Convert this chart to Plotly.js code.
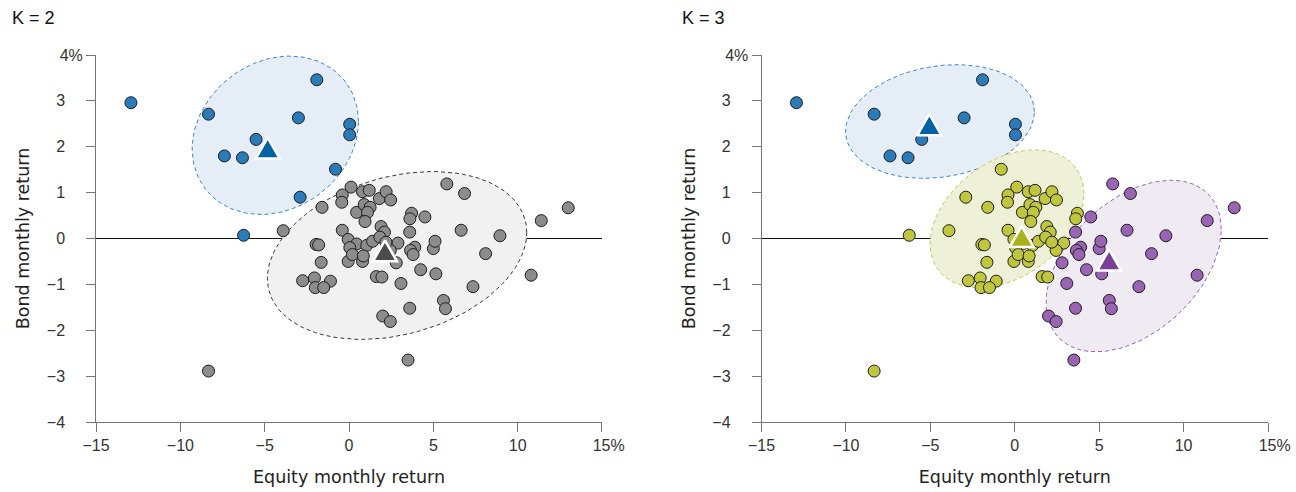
<!DOCTYPE html>
<html><head><meta charset="utf-8">
<script src="https://cdn.plot.ly/plotly-3.0.1.min.js"></script>
<style>html,body{margin:0;padding:0;background:#fff;} #chart{width:1296px;height:492px;}</style>
</head><body><div id="chart"></div>
<script>
// Monthly returns (%) for each observation
const equity = [-12.93,-8.33,-1.91,-3.00,0.04,0.04,-5.51,-7.39,-6.32,-0.80,-2.90,-6.25,
  -8.33,0.12,-0.40,-0.43,0.80,1.20,1.80,2.20,2.47,-1.60,0.45,0.90,1.25,1.10,0.95,3.71,3.61,4.50,
  -3.90,-0.40,1.90,2.10,3.60,-1.95,-1.80,-0.05,0.45,0.05,1.05,1.40,2.90,3.90,3.65,3.80,5.00,5.10,
  -1.65,-0.05,0.80,0.20,0.85,2.80,4.25,5.15,1.62,1.95,3.08,-2.75,-2.05,-1.10,-2.00,-1.50,
  3.60,2.00,2.45,3.50,5.80,6.85,13.00,11.40,6.65,8.95,8.10,10.80,7.35,5.60,5.72,2.45,1.83,2.19];
const bond = [2.96,2.71,3.46,2.63,2.49,2.26,2.16,1.80,1.76,1.51,0.90,0.07,
  -2.89,1.12,0.95,0.79,1.02,1.05,0.87,1.02,0.84,0.68,0.57,0.74,0.68,0.57,0.37,0.55,0.43,0.47,
  0.17,0.18,0.26,0.14,0.14,-0.13,-0.14,-0.02,-0.12,-0.20,-0.15,-0.06,-0.10,-0.19,-0.26,-0.35,-0.22,-0.06,
  -0.52,-0.50,-0.50,-0.35,-0.38,-0.53,-0.68,-0.77,-0.83,-0.84,-0.98,-0.92,-0.86,-0.93,-1.07,-1.07,
  -1.52,-1.69,-1.81,-2.65,1.19,0.98,0.67,0.39,0.18,0.06,-0.33,-0.80,-1.05,-1.35,-1.53,-0.26,0.03,-0.08];
// Cluster labels
const clusterK2 = [0,0,0,0,0,0,0,0,0,0,0,0,
  1,1,1,1,1,1,1,1,1,1,1,1,1,1,1,1,1,1,
  1,1,1,1,1,1,1,1,1,1,1,1,1,1,1,1,1,1,
  1,1,1,1,1,1,1,1,1,1,1,1,1,1,1,1,
  1,1,1,1,1,1,1,1,1,1,1,1,1,1,1,1,1,1];
const clusterK3 = [0,0,0,0,0,0,0,0,0,1,1,1,
  1,1,1,1,1,1,1,1,1,1,1,1,1,1,1,1,1,2,
  1,1,1,1,2,1,1,1,1,1,1,1,1,2,2,2,2,2,
  1,1,1,1,1,2,2,2,1,1,2,1,1,1,1,1,
  2,2,2,2,2,2,2,2,2,2,2,2,2,2,2,1,1,1];
// Centroids
const k2CentroidEquity = [-4.82, 2.13];
const k2CentroidBond = [1.96, -0.28];
const k3CentroidEquity = [-5.06, 0.41, 5.59];
const k3CentroidBond = [2.47, 0.03, -0.48];
// Cluster ellipses: centre, half-widths, tilt
const k2EllipseCx = [-4.37, 2.85];
const k2EllipseCy = [2.25, -0.37];
const k2EllipseRx = [4.93, 7.69];
const k2EllipseRy = [1.70, 1.76];
const k2EllipseTilt = [0.30, 0.50];
const k3EllipseCx = [-4.43, -0.46, 7.04];
const k3EllipseCy = [2.55, 0.43, -0.60];
const k3EllipseRx = [5.59, 4.56, 5.19];
const k3EllipseRy = [1.22, 1.40, 1.69];
const k3EllipseTilt = [0.215, 0.545, 0.80];
// Axis ticks
const xTickVals = [-15,-10,-5,0,5,10,15];
const xTickText = ['\u221215','\u221210','\u22125','0','5','10','\u2007\u200815%'];
const yTickVals = [-4,-3,-2,-1,0,1,2,3,4];
const yTickText = ['\u22124\u2007\u2007','\u22123\u2007\u2007','\u22122\u2007\u2007','\u22121\u2007\u2007','0\u2007\u2007','1\u2007\u2007','2\u2007\u2007','3\u2007\u2007','4%'];

const k2Colors = ['#2b7bb9', '#8c8c8c'];
const k2TriColors = ['#0063a6', '#4b4b4b'];
const k2Fill = ['#e5eef7', '#f1f1f1'];
const k2Line = ['#3a86c4', '#3a3a3a'];
const k3Colors = ['#2b7bb9', '#c0c73e', '#9a64b4'];
const k3TriColors = ['#0063a6', '#a9b21b', '#7b3f98'];
const k3Fill = ['#e5eef7', '#eef1d7', '#f0eaf3'];
const k3Line = ['#3a86c4', '#c2ca55', '#9564b0'];

function ellipse(cx, cy, rx, ry, tilt) {
  const xs = [], ys = [];
  const n = 120;
  for (let i = 0; i <= n; i++) {
    const t = 2 * Math.PI * i / n;
    xs.push(cx + rx * Math.cos(t));
    ys.push(cy + ry * Math.sin(t) + tilt * Math.cos(t));
  }
  return {x: xs, y: ys};
}

const traces = [];
function panel(xa, ya, labels, cx, cy, rx, ry, tilt, colors, fills, lines, triColors, centX, centY) {
  const k = cx.length;
  for (let c = 0; c < k; c++) {
    const e = ellipse(cx[c], cy[c], rx[c], ry[c], tilt[c]);
    traces.push({type:'scatter', mode:'lines', x:e.x, y:e.y, xaxis:xa, yaxis:ya,
      fill:'toself', fillcolor:fills[c], line:{color:lines[c], width:1, dash:'4px,3px'},
      hoverinfo:'skip', showlegend:false});
  }
  for (let c = 0; c < k; c++) {
    const xs = [], ys = [];
    for (let i = 0; i < equity.length; i++) if (labels[i] === c) { xs.push(equity[i]); ys.push(bond[i]); }
    traces.push({type:'scatter', mode:'markers', x:xs, y:ys, xaxis:xa, yaxis:ya,
      marker:{size:12, color:colors[c], line:{color:'#1e1e1e', width:1}}, showlegend:false});
  }
  traces.push({type:'scatter', mode:'markers', x:centX, y:centY, xaxis:xa, yaxis:ya,
    marker:{symbol:'triangle-up', size:24, color:triColors, line:{color:'#ffffff', width:2.5}},
    showlegend:false, name:'centroid'});
}
panel('x','y', clusterK2, k2EllipseCx, k2EllipseCy, k2EllipseRx, k2EllipseRy, k2EllipseTilt,
  k2Colors, k2Fill, k2Line, k2TriColors, k2CentroidEquity, k2CentroidBond);
panel('x2','y2', clusterK3, k3EllipseCx, k3EllipseCy, k3EllipseRx, k3EllipseRy, k3EllipseTilt,
  k3Colors, k3Fill, k3Line, k3TriColors, k3CentroidEquity, k3CentroidBond);

const font = 'Arial, "Liberation Sans", sans-serif';
const titleFont = '"DejaVu Sans", Verdana, sans-serif';
function xaxis(domain, anchor) {
  return {domain:domain, anchor:anchor, range:[-15,15], tickvals:xTickVals, ticktext:xTickText,
    ticks:'outside', ticklen:9, tickcolor:'#777', tickwidth:1, showline:true, linecolor:'#777', linewidth:1,
    zeroline:false, showgrid:false, tickfont:{family:font, size:16, color:'#333'},
    title:{text:'Equity monthly return', font:{family:titleFont, size:17.5, color:'#222'}, standoff:17},
    fixedrange:true};
}
function yaxis(anchor) {
  return {domain:[0,1], anchor:anchor, range:[-4,4], tickvals:yTickVals, ticktext:yTickText,
    ticks:'outside', ticklen:9, tickcolor:'#777', tickwidth:1, showline:true, linecolor:'#777', linewidth:1,
    zeroline:true, zerolinecolor:'#111', zerolinewidth:1.5, showgrid:false,
    tickfont:{family:font, size:16, color:'#333'},
    title:{text:'Bond monthly return', font:{family:titleFont, size:17.5, color:'#222'}, standoff:12},
    fixedrange:true};
}
const layout = {
  width:1296, height:492, margin:{l:0, r:0, t:55, b:70},
  paper_bgcolor:'#fff', plot_bgcolor:'rgba(0,0,0,0)', showlegend:false, hovermode:false,
  xaxis: xaxis([0.0741, 0.4645], 'y'),
  yaxis: yaxis('x'),
  xaxis2: xaxis([0.5876, 0.9784], 'y2'),
  yaxis2: yaxis('x2'),
  annotations:[
    {text:'K = 2', xref:'paper', yref:'paper', x:0.008, y:1.0, yshift:37, xanchor:'left', yanchor:'middle', showarrow:false,
     font:{family:font, size:18, color:'#111'}},
    {text:'K = 3', xref:'paper', yref:'paper', x:0.525, y:1.0, yshift:37, xanchor:'left', yanchor:'middle', showarrow:false,
     font:{family:font, size:18, color:'#111'}}
  ]
};
Plotly.newPlot('chart', traces, layout, {displayModeBar:false, staticPlot:true}).then(function(gd){
  // reshape centroid triangles to a taller, equilateral-like outline
  gd.querySelectorAll('.scatterlayer .trace').forEach(function(tr){
    const d = tr.__data__ && tr.__data__[0] && tr.__data__[0].trace;
    if (d && d.name === 'centroid') {
      tr.querySelectorAll('path.point').forEach(function(p){ p.setAttribute('d','M-12,10H12L0,-11Z'); });
    }
  });
});
</script>
</body></html>
